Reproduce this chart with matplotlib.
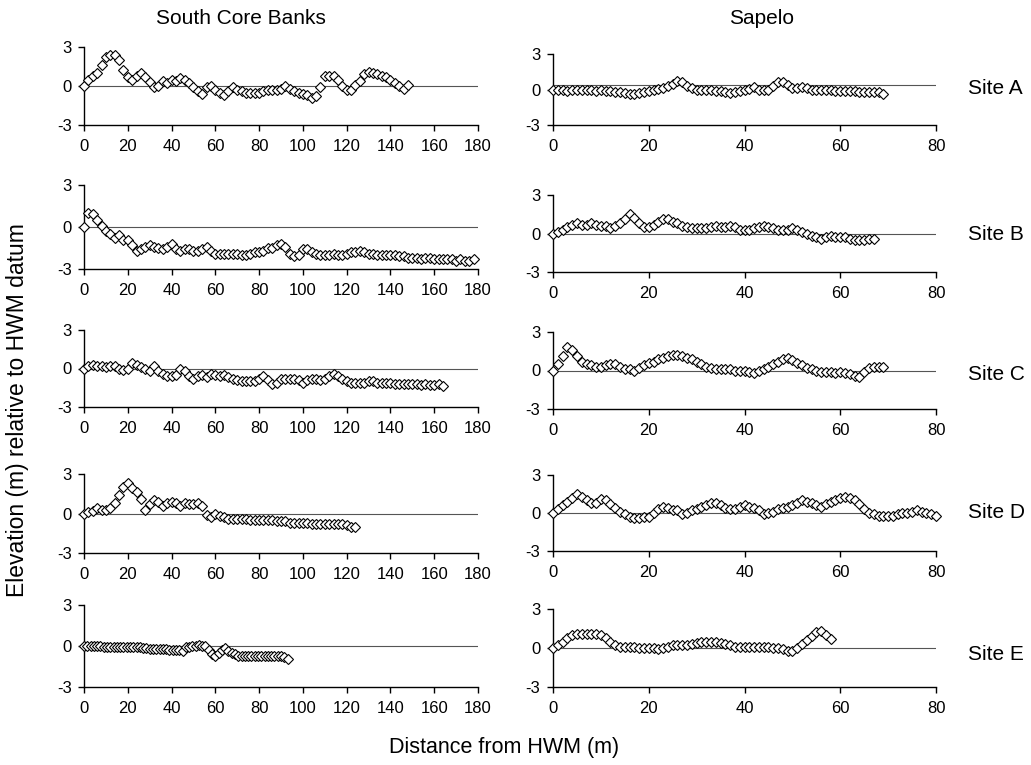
import numpy as np
import matplotlib
matplotlib.use("Agg")
import matplotlib.pyplot as plt

plt.rcParams['font.family'] = ['Liberation Sans', 'DejaVu Sans']
plt.rcParams['axes.unicode_minus'] = False

# elevation (m) relative to HWM datum
# South Core Banks sampled every 2 m (site E every 1.5 m), Sapelo every 1 m
scb_step = [2.0, 2.0, 2.0, 2.0, 1.5]
sap_step = [1.0, 1.0, 1.0, 1.0, 1.0]

scb_a = [0.0, 0.5, 0.8, 1.0, 1.6, 2.2, 2.4, 2.4, 2.0, 1.2, 0.7, 0.5, 0.8, 1.0, 0.7,
         0.3, -0.1, 0.0, 0.4, 0.2, 0.5, 0.4, 0.6, 0.5, 0.2, -0.1, -0.4, -0.6, -0.1,
         0.0, -0.3, -0.5, -0.7, -0.4, -0.1, -0.3, -0.4, -0.5, -0.5, -0.5, -0.5, -0.4,
         -0.3, -0.3, -0.3, -0.2, 0.0, -0.2, -0.4, -0.5, -0.6, -0.7, -0.9, -0.8, -0.1,
         0.8, 0.8, 0.8, 0.5, 0.0, -0.3, -0.3, 0.1, 0.4, 0.9, 1.1, 1.0, 0.9, 0.8, 0.7,
         0.5, 0.2, 0.0, -0.2, 0.1]
scb_b = [0.0, 1.0, 0.9, 0.5, 0.1, -0.3, -0.5, -0.8, -0.6, -0.9, -0.9, -1.3, -1.7,
         -1.6, -1.4, -1.3, -1.4, -1.5, -1.6, -1.4, -1.2, -1.6, -1.7, -1.6, -1.6, -1.7,
         -1.7, -1.6, -1.4, -1.7, -1.9, -1.9, -1.9, -1.9, -1.9, -1.9, -2.0, -2.0, -1.9,
         -1.8, -1.8, -1.7, -1.5, -1.5, -1.3, -1.2, -1.4, -1.9, -2.1, -2.0, -1.6, -1.6,
         -1.8, -1.9, -2.0, -2.0, -2.0, -1.9, -2.0, -2.0, -1.9, -1.8, -1.8, -1.7, -1.8,
         -1.9, -1.9, -2.0, -2.0, -2.0, -2.0, -2.0, -2.1, -2.1, -2.2, -2.2, -2.2, -2.3,
         -2.2, -2.2, -2.3, -2.3, -2.3, -2.3, -2.3, -2.4, -2.3, -2.4, -2.4, -2.3]
scb_c = [0.0, 0.2, 0.3, 0.2, 0.2, 0.1, 0.2, 0.2, 0.0, -0.1, 0.0, 0.4, 0.3, 0.1, 0.0,
         -0.2, 0.2, -0.2, -0.4, -0.6, -0.6, -0.5, 0.0, -0.2, -0.6, -0.8, -0.6, -0.5,
         -0.7, -0.4, -0.5, -0.6, -0.5, -0.7, -0.8, -0.9, -1.0, -1.0, -1.0, -1.0, -0.8,
         -0.6, -0.9, -1.2, -1.1, -0.8, -0.8, -0.8, -0.8, -0.9, -1.1, -0.9, -0.8, -0.8,
         -0.9, -0.8, -0.6, -0.4, -0.6, -0.8, -1.0, -1.1, -1.1, -1.1, -1.1, -1.0, -1.0,
         -1.1, -1.1, -1.1, -1.1, -1.2, -1.2, -1.2, -1.2, -1.2, -1.2, -1.3, -1.2, -1.3,
         -1.3, -1.2, -1.4]
scb_d = [0.0, 0.1, 0.2, 0.4, 0.3, 0.3, 0.4, 0.8, 1.4, 2.0, 2.3, 1.9, 1.6, 1.1, 0.3,
         0.7, 1.0, 0.9, 0.6, 0.8, 0.9, 0.8, 0.6, 0.8, 0.7, 0.7, 0.8, 0.6, -0.1, -0.3,
         0.0, -0.2, -0.3, -0.4, -0.4, -0.4, -0.4, -0.4, -0.5, -0.5, -0.5, -0.5, -0.5,
         -0.5, -0.6, -0.6, -0.6, -0.7, -0.7, -0.7, -0.7, -0.7, -0.8, -0.8, -0.8, -0.8,
         -0.8, -0.8, -0.8, -0.8, -0.9, -1.0, -1.0]
scb_e = [0.0, 0.0, 0.0, 0.0, 0.0, 0.0, -0.05, -0.05, -0.05, -0.1, -0.1, -0.1, -0.1,
         -0.1, -0.1, -0.1, -0.1, -0.1, -0.15, -0.15, -0.2, -0.2, -0.2, -0.2, -0.25,
         -0.2, -0.3, -0.3, -0.3, -0.3, -0.35, -0.1, -0.05, 0.0, 0.0, 0.05, 0.0, 0.0,
         -0.3, -0.55, -0.7, -0.5, -0.3, -0.15, -0.4, -0.5, -0.6, -0.7, -0.7, -0.75,
         -0.75, -0.75, -0.75, -0.75, -0.75, -0.75, -0.75, -0.75, -0.75, -0.7, -0.75,
         -0.8, -0.95]

sap_a = [0.0, -0.05, -0.05, -0.1, -0.05, 0.0, 0.0, 0.0, -0.05, -0.1, -0.05, -0.1,
         -0.15, -0.2, -0.25, -0.3, -0.35, -0.35, -0.3, -0.2, -0.1, 0.0, 0.05, 0.1, 0.3,
         0.5, 0.7, 0.6, 0.3, 0.1, 0.0, -0.05, -0.05, -0.05, -0.1, -0.15, -0.25, -0.3,
         -0.25, -0.15, -0.05, 0.05, 0.2, 0.0, -0.05, 0.0, 0.3, 0.6, 0.6, 0.35, 0.15,
         0.1, 0.2, 0.1, 0.0, 0.0, -0.05, -0.05, -0.05, -0.1, -0.1, -0.1, -0.1, -0.15,
         -0.2, -0.2, -0.2, -0.2, -0.25, -0.4]
sap_b = [0.0, 0.1, 0.3, 0.5, 0.7, 0.8, 0.7, 0.7, 0.8, 0.7, 0.6, 0.6, 0.4, 0.6, 0.8,
         1.1, 1.5, 1.2, 0.8, 0.5, 0.5, 0.7, 0.9, 1.1, 1.1, 0.9, 0.8, 0.6, 0.5, 0.4,
         0.4, 0.4, 0.4, 0.5, 0.6, 0.5, 0.5, 0.6, 0.5, 0.3, 0.3, 0.3, 0.4, 0.5, 0.6,
         0.5, 0.4, 0.3, 0.3, 0.3, 0.4, 0.3, 0.1, 0.0, -0.2, -0.3, -0.4, -0.3, -0.2,
         -0.3, -0.3, -0.3, -0.4, -0.5, -0.5, -0.5, -0.4, -0.4]
sap_c = [0.0, 0.5, 1.1, 1.8, 1.6, 1.1, 0.7, 0.5, 0.4, 0.3, 0.3, 0.4, 0.5, 0.5, 0.3,
         0.1, 0.1, 0.0, 0.2, 0.4, 0.6, 0.7, 0.9, 1.0, 1.1, 1.2, 1.2, 1.1, 1.0, 0.9,
         0.7, 0.5, 0.3, 0.2, 0.1, 0.1, 0.1, 0.1, 0.0, 0.0, 0.0, -0.1, -0.2, 0.0, 0.1,
         0.3, 0.5, 0.7, 0.9, 1.0, 0.8, 0.6, 0.4, 0.2, 0.1, 0.0, -0.1, -0.1, -0.1, -0.2,
         -0.1, -0.2, -0.3, -0.4, -0.5, -0.1, 0.2, 0.3, 0.3, 0.3]
sap_d = [0.0, 0.3, 0.6, 0.9, 1.2, 1.5, 1.3, 1.0, 0.8, 0.8, 1.1, 1.0, 0.7, 0.4, 0.1,
         -0.1, -0.3, -0.4, -0.4, -0.3, -0.3, 0.0, 0.3, 0.5, 0.4, 0.2, 0.2, -0.1, 0.0,
         0.2, 0.3, 0.5, 0.6, 0.8, 0.8, 0.6, 0.4, 0.3, 0.3, 0.5, 0.6, 0.5, 0.4, 0.2,
         -0.1, 0.0, 0.1, 0.3, 0.4, 0.5, 0.6, 0.8, 1.0, 0.9, 0.8, 0.6, 0.5, 0.7, 0.9,
         1.0, 1.2, 1.3, 1.2, 1.0, 0.7, 0.3, 0.0, -0.1, -0.2, -0.2, -0.2, -0.2, -0.1,
         0.0, 0.0, 0.1, 0.2, 0.1, 0.0, -0.1, -0.2]
sap_e = [0.0, 0.2, 0.5, 0.8, 1.0, 1.1, 1.1, 1.1, 1.1, 1.1, 1.0, 0.8, 0.5, 0.2, 0.1,
         0.1, 0.1, 0.1, 0.0, 0.0, 0.0, 0.0, -0.1, 0.0, 0.1, 0.2, 0.2, 0.2, 0.2, 0.3,
         0.4, 0.5, 0.5, 0.5, 0.5, 0.4, 0.3, 0.2, 0.1, 0.1, 0.1, 0.1, 0.1, 0.1, 0.1,
         0.1, 0.0, 0.0, -0.1, -0.2, -0.2, 0.0, 0.3, 0.6, 0.9, 1.2, 1.3, 1.0, 0.7]

scb_profiles = [scb_a, scb_b, scb_c, scb_d, scb_e]
sap_profiles = [sap_a, sap_b, sap_c, sap_d, sap_e]
sap_ref = [0.35, 0.0, 0.0, 0.0, 0.0]   # level of the horizontal rule
sites = ["Site A", "Site B", "Site C", "Site D", "Site E"]

W, H = 1031, 765
# panel extents in pixels: (top of +3, bottom of -3)
left_rows = [(47, 125), (185, 269), (330, 407), (474, 553), (605, 687)]
right_rows = [(54, 125), (195, 272), (332, 409), (475, 551), (609, 687)]
site_y = [89, 235, 374, 513, 654]


def panel(fig, x0, x1, row, xs, ys, xmax, xticks, ref=0.0):
    y0, y1 = row
    ax = fig.add_axes([x0 / W, 1 - y1 / H, (x1 - x0) / W, (y1 - y0) / H])
    ax.axhline(ref, color='#555555', lw=0.8, zorder=1)
    ax.plot(xs, ys, ls='none', marker='D', ms=4.8, mfc='white', mec='black',
            mew=0.8, clip_on=False, zorder=3)
    ax.set_xlim(0, xmax)
    ax.set_ylim(-3, 3)
    ax.set_xticks(xticks)
    ax.set_yticks([-3, 0, 3])
    for s in ['top', 'right']:
        ax.spines[s].set_visible(False)
    for s in ['left', 'bottom']:
        ax.spines[s].set_linewidth(1.0)
    ax.tick_params(axis='x', direction='out', length=4, width=1, labelsize=12, pad=6)
    ax.tick_params(axis='y', direction='out', length=4, width=1, labelsize=12, pad=5)
    ax.set_facecolor('none')
    return ax


fig = plt.figure(figsize=(W / 100, H / 100), dpi=100)

for i in range(5):
    ys = scb_profiles[i]
    xs = np.arange(len(ys)) * scb_step[i]
    panel(fig, 84, 478, left_rows[i], xs, ys, 180, range(0, 181, 20))

    ys = sap_profiles[i]
    xs = np.arange(len(ys)) * sap_step[i]
    panel(fig, 553, 936, right_rows[i], xs, ys, 80, range(0, 81, 20), sap_ref[i])

    fig.text(968 / W, 1 - site_y[i] / H, sites[i], fontsize=15, va='center', ha='left')

fig.text(241 / W, 1 - 18 / H, "South Core Banks", fontsize=15, ha='center', va='center')
fig.text(762 / W, 1 - 18 / H, "Sapelo", fontsize=15, ha='center', va='center')
fig.text(504 / W, 1 - 748 / H, "Distance from HWM (m)", fontsize=15.5, ha='center', va='center')
fig.text(18 / W, 1 - 410 / H, "Elevation (m) relative to HWM datum", fontsize=16.5,
         rotation=90, ha='center', va='center')

fig.savefig("out.png", dpi=100)
